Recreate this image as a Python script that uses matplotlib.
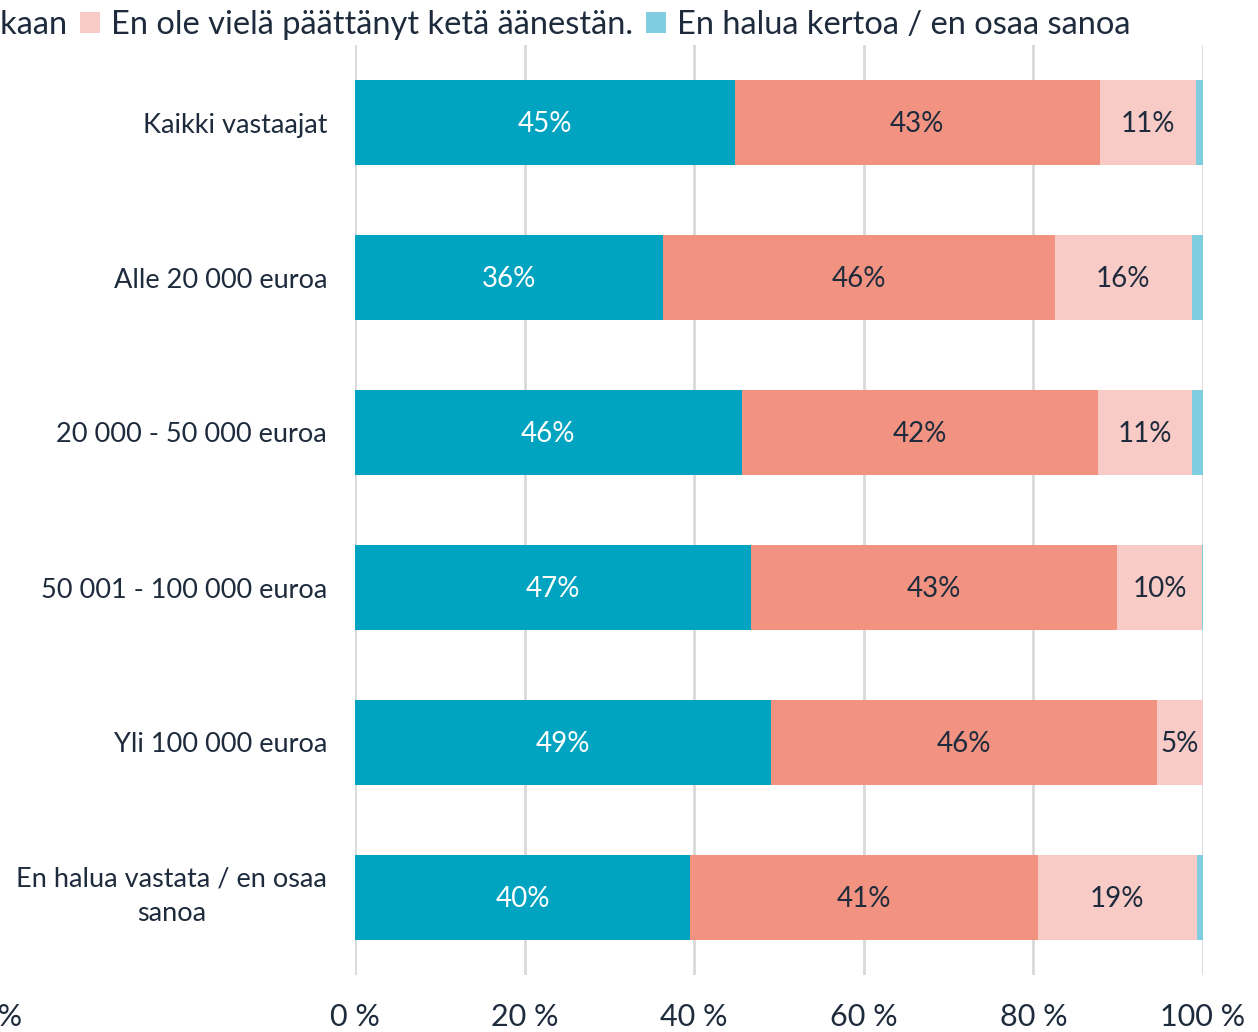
import numpy as np
import matplotlib.pyplot as plt
import matplotlib.transforms as mtransforms

plt.rcParams['font.family'] = ['Lato', 'DejaVu Sans']

kategoriat = ['Kaikki vastaajat', 'Alle 20 000 euroa', '20 000 - 50 000 euroa',
              '50 001 - 100 000 euroa', 'Yli 100 000 euroa',
              'En halua vastata / en osaa\nsanoa']
sarjat = ['Aion äänestää', 'En aio äänestää lainkaan',
          'En ole vielä päättänyt ketä äänestän.', 'En halua kertoa / en osaa sanoa']
aanestaa = [44.8, 36.3, 45.6, 46.7, 49.1, 39.5]
ei_aanesta = [43.0, 46.2, 42.0, 43.2, 45.5, 41.0]
ei_paattanyt = [11.4, 16.2, 11.1, 10.0, 5.4, 18.8]
ei_kerro = [0.8, 1.3, 1.3, 0.1, 0.0, 0.7]
x_ticks = [0, 20, 40, 60, 80, 100]

varit = ['#00A3C0', '#F29381', '#F8CBC6', '#80CDE0']
tekstivari = '#1E2B3C'

fig = plt.figure(figsize=(12.58, 10.32), dpi=100)
ax = fig.add_axes([355/1258, 1 - 975/1032, 848/1258, 930/1032])

y = np.arange(len(kategoriat))
vasen = np.zeros(len(kategoriat))
for i, arvot in enumerate([aanestaa, ei_aanesta, ei_paattanyt, ei_kerro]):
    arvot = np.array(arvot)
    ax.barh(y, arvot, left=vasen, height=0.55, color=varit[i], label=sarjat[i], zorder=3)
    if i < 3:
        for yy, l, v in zip(y, vasen, arvot):
            if v > 3:
                ax.text(l + v/2, yy + 0.01, f'{round(v):.0f}%', ha='center', va='center',
                        fontsize=20, color='white' if i == 0 else tekstivari, zorder=4)
    vasen += arvot

ax.set_xlim(0, 100)
ax.set_ylim(len(kategoriat) - 0.5, -0.5)
ax.set_xticks(x_ticks)
ax.set_xticklabels([f'{t} %' for t in x_ticks], fontsize=22, color=tekstivari)
ax.set_yticks(y)
ax.set_yticklabels(kategoriat, fontsize=19.5, color=tekstivari, multialignment='center',
                   linespacing=1.5)
ax.tick_params(axis='x', length=0, pad=20)
ax.tick_params(axis='y', length=0, pad=20)
# kaksirivinen nimike hieman ylemmäs
viimeinen = ax.get_yticklabels()[-1]
viimeinen.set_transform(viimeinen.get_transform() +
                        mtransforms.ScaledTranslation(0, 9/100, fig.dpi_scale_trans))
ax.grid(axis='x', color='#D9D9D9', linewidth=2, zorder=0)
for s in ax.spines.values():
    s.set_visible(False)

fig.legend(loc='upper right', bbox_to_anchor=(1160/1258, 1.019), ncol=4, frameon=False,
           fontsize=23.5, labelcolor=tekstivari, handlelength=0.6, handleheight=0.6,
           handletextpad=0.35, columnspacing=0.4)

# reunasta leikkautunut viereisen kuvion akselin teksti
fig.text(22/1258, 1 - 1017/1032, '100 %', ha='right', va='center', fontsize=22, color=tekstivari)

fig.savefig('out.png', dpi=100)
